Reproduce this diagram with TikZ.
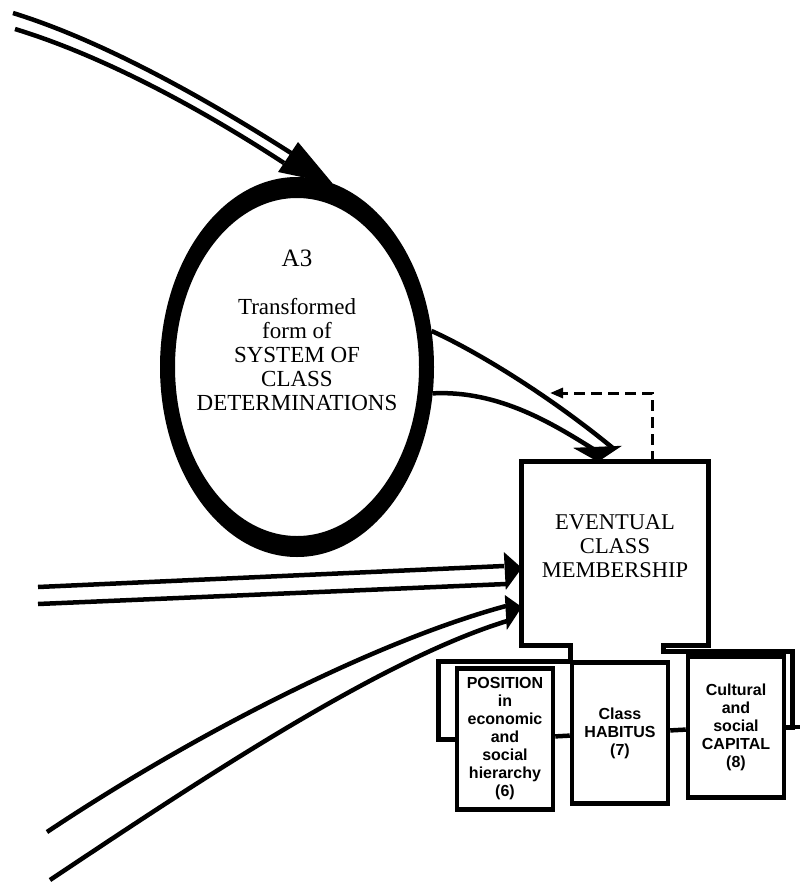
\documentclass[tikz,border=0pt]{standalone}
\usepackage{fontspec}
\setmainfont{Liberation Serif}
\setsansfont{Liberation Sans}
\usetikzlibrary{shapes.geometric,arrows.meta}

\begin{document}
\begin{tikzpicture}[x=1pt, y=-1pt] %Eventual class membership
	\tikzstyle{link} = [line width=4.5pt]
	\tikzstyle{bigbox} = [rectangle, minimum width=186pt, minimum height=183pt, text centered, align=center, text depth=14pt, font=\fontsize{22.5}{24}\selectfont]
	\tikzstyle{smallbox} = [rectangle, draw, line width=4.5pt, minimum width=96pt, minimum height=141pt, inner sep=1pt, text centered, align=center, font=\sffamily\bfseries\fontsize{16}{18}\selectfont]
	\tikzstyle{head} = [fill=black]
	\useasboundingbox (0,0) rectangle (800,883);
	% oval A3
	\node[ellipse, minimum width=274pt, minimum height=380pt, inner sep=0pt, outer sep=0pt] (A3) at (297,367) {};
	\fill[even odd rule] (A3.center) ellipse [x radius=137pt, y radius=190pt] (A3.center) ellipse [x radius=122pt, y radius=169pt];
	\node[align=center, anchor=north, inner sep=0pt, font=\fontsize{23}{24}\selectfont] (A3txt) at (297,250) {{\fontsize{25}{24}\selectfont A3}\\[24pt]Transformed\\form of\\SYSTEM OF\\CLASS\\DETERMINATIONS};
	% boxes
	\node[bigbox] (ECM) at (615,553.5) {EVENTUAL\\CLASS\\MEMBERSHIP};
	\foreach \name/\x/\y/\txt in {POS/505/739/{POSITION\\in\\economic\\and\\social\\hierarchy\\(6)}, HAB/620/733/{Class\\HABITUS\\(7)}, CAP/736/727/{Cultural\\and\\social\\CAPITAL\\(8)}}
	{
		\node[smallbox] (\name) at (\x,\y) {\txt};
	}
	\coordinate (offR) at (800,727);
	\draw[link] (POS) -- (HAB);
	\draw[link] (HAB) -- (CAP);
	\draw[link] (CAP) -- (offR);
	\draw[line width=5pt] (POS.west) -| (438,661) -- (570,661) |- (ECM.south west) -- (ECM.north west) -- (ECM.north east) -- (ECM.south east) -| (663,651) -- (792,651) |- (CAP.east);
	% arrow into the oval
	\coordinate (topA) at (13,13);
	\coordinate (topB) at (15,29);
	\draw[link] (topA) .. controls (100,40) and (200,95) .. (291,153);
	\draw[link] (topB) .. controls (100,55) and (195,105) .. (284,163);
	\fill[head] (A3.79) -- (298,142) -- (278,172) -- cycle;
	% oval to box
	\coordinate (tipE) at (ECM.north -| 598,0);
	\draw[link] (A3.15) .. controls (470,348) and (545,392) .. (614,449);
	\draw[link] (A3.-11) .. controls (500,390) and (555,425) .. (598,452);
	\fill[head] (tipE) -- ++(-25,-14) -- ++(49,-2) -- cycle;
	\coordinate (dashEnd) at (550,393);
	\draw[line width=3pt, dash pattern=on 11pt off 6pt, -{Triangle[width=10pt,length=13pt]}] ([xshift=37pt]ECM.north) |- (dashEnd);
	% arrows from the left
	\coordinate (midA) at (38,587);
	\coordinate (midB) at (38,604);
	\coordinate (lowA) at (47,832);
	\coordinate (lowB) at (50,880);
	\coordinate (tipM) at (ECM.west |- 0,568);
	\coordinate (tipL) at (ECM.west |- 0,607);
	\draw[link] (midA) -- (504,566);
	\draw[link] (midB) -- (506,584);
	\fill[head] (tipM) -- ++(-18,-16) -- ++(2,38) -- cycle;
	\draw[link] (lowA) .. controls (200,730) and (380,640) .. (506,606);
	\draw[link] (lowB) .. controls (200,780) and (380,660) .. (507,621);
	\fill[head] (tipL) -- ++(-17,-12) -- ++(2,35) -- cycle;
\end{tikzpicture}
\end{document}
